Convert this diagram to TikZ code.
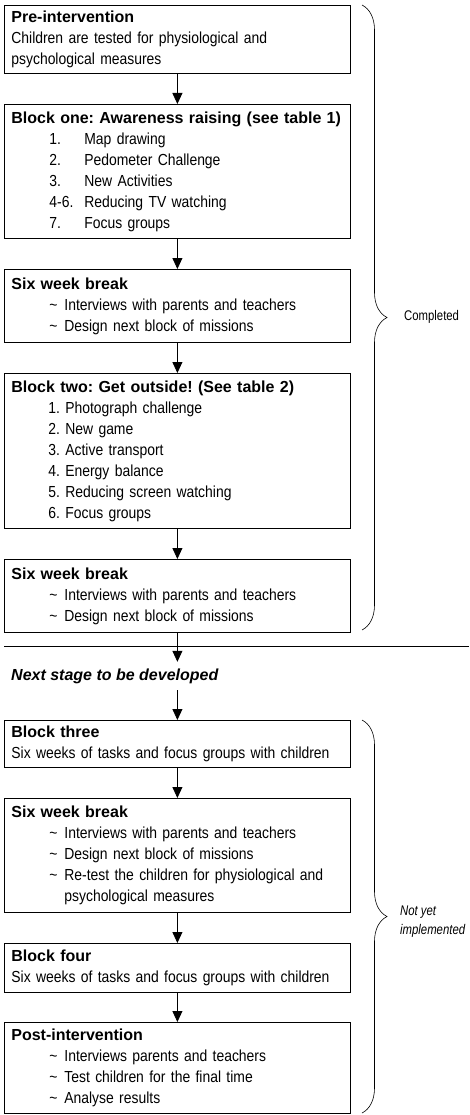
\documentclass[tikz,border=0pt]{standalone}
\usepackage{fontspec}
\setmainfont{Liberation Sans}[FakeStretch=0.87]
\newfontfamily\headfont{Liberation Sans}
\newfontfamily\notefont{Liberation Sans}[FakeStretch=0.81]
\usetikzlibrary{arrows.meta,decorations.pathreplacing}
\frenchspacing
\newcommand{\hd}[1]{{\headfont\bfseries #1}}
\newcommand{\numitem}[2]{\hspace*{38pt}\makebox[35pt][l]{#1}#2}
\newcommand{\tilitem}[1]{\hspace*{38pt}\makebox[15pt][l]{\char`\~}#1}
\begin{document}
\begin{tikzpicture}[x=1pt,y=-1pt,
  stage/.style={draw,line width=0.8pt,anchor=north west,inner xsep=7pt,inner ysep=0pt,
    text width=332pt,align=left,font=\fontsize{16}{21}\selectfont},
  flow/.style={-{Triangle[length=11pt,width=10pt]},line width=0.8pt},
  side/.style={decorate,decoration={brace,amplitude=25pt},line width=0.6pt},
  note/.style={anchor=west,align=left,inner sep=0pt,font=\notefont\fontsize{14}{19}\selectfont}]
\useasboundingbox (0,0) rectangle (469,1115);
\node[stage,minimum height=68pt] (pre) at (4,5)
  {\hd{Pre-intervention}\\ Children are tested for physiological and\\ psychological measures};
\node[stage,minimum height=134pt] (one) at (4,104)
  {\hd{Block one: Awareness raising (see table 1)}\\
   \numitem{1.}{Map drawing}\\ \numitem{2.}{Pedometer Challenge}\\
   \numitem{3.}{New Activities}\\ \numitem{4-6.}{Reducing TV watching}\\
   \numitem{7.}{Focus groups}};
\node[stage,minimum height=73pt] (brk1) at (4,269)
  {\hd{Six week break}\\ \tilitem{Interviews with parents and teachers}\\
   \tilitem{Design next block of missions}};
\node[stage,minimum height=155pt] (two) at (4,373)
  {\hd{Block two: Get outside! (See table 2)}\\
   \hspace*{37pt}1. Photograph challenge\\ \hspace*{37pt}2. New game\\
   \hspace*{37pt}3. Active transport\\ \hspace*{37pt}4. Energy balance\\
   \hspace*{37pt}5. Reducing screen watching\\ \hspace*{37pt}6. Focus groups};
\node[stage,minimum height=73pt] (brk2) at (4,559)
  {\hd{Six week break}\\ \tilitem{Interviews with parents and teachers}\\
   \tilitem{Design next block of missions}};
\draw[line width=0.8pt] (4,646) -- (469,646);
\node[anchor=west,inner xsep=7pt,minimum height=28pt,
  font=\headfont\bfseries\itshape\fontsize{16}{21}\selectfont] (next) at (4,676)
  {Next stage to be developed};
\node[stage,minimum height=47pt] (three) at (4,720)
  {\hd{Block three}\\ Six weeks of tasks and focus groups with children};
\node[stage,minimum height=114pt] (brk3) at (4,798)
  {\hd{Six week break}\\ \tilitem{Interviews with parents and teachers}\\
   \tilitem{Design next block of missions}\\
   \tilitem{Re-test the children for physiological and}\\
   \hspace*{53pt}psychological measures};
\node[stage,minimum height=49pt] (four) at (4,943)
  {\hd{Block four}\\ Six weeks of tasks and focus groups with children};
\node[stage,minimum height=91pt] (post) at (4,1022)
  {\hd{Post-intervention}\\ \tilitem{Interviews parents and teachers}\\
   \tilitem{Test children for the final time}\\ \tilitem{Analyse results}};
\draw[flow] (pre) -- (one);
\draw[flow] (one) -- (brk1);
\draw[flow] (brk1) -- (two);
\draw[flow] (two) -- (brk2);
\draw[flow] (brk2) -- (brk2.south |- next.north);
\draw[flow] (brk2.south |- next.south) -- (three);
\draw[flow] (three) -- (brk3);
\draw[flow] (brk3) -- (four);
\draw[flow] (four) -- (post);
\draw[side] (362,5) -- (362,630);
\node[note] (done) at (404,317) {Completed};
\draw[side] (362,720) -- (362,1113);
\node[note] (todo) at (400,922) {\itshape Not yet\\ \itshape implemented};
\end{tikzpicture}
\end{document}
